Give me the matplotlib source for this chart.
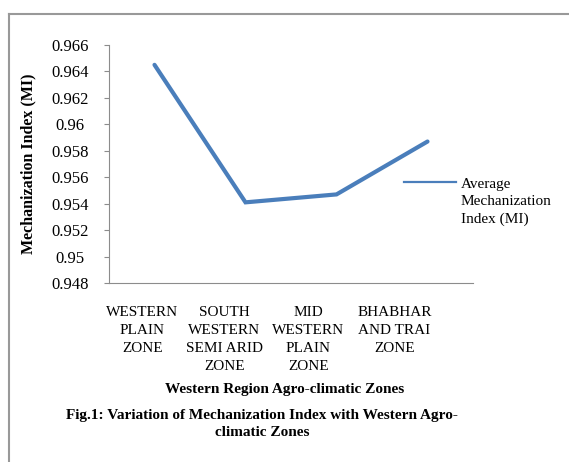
import matplotlib
matplotlib.use("Agg")
import matplotlib.pyplot as plt
from matplotlib.lines import Line2D
from matplotlib.ticker import FuncFormatter
from matplotlib.transforms import ScaledTranslation

categories = ["WESTERN\nPLAIN\nZONE", "SOUTH\nWESTERN\nSEMI ARID\nZONE",
              "MID\nWESTERN\nPLAIN\nZONE", "BHABHAR\nAND TRAI\nZONE"]
mi_values = [0.9645, 0.9541, 0.9547, 0.9587]
y_ticks = [0.948, 0.950, 0.952, 0.954, 0.956, 0.958, 0.960, 0.962, 0.964, 0.966]
series_name = "Average\nMechanization\nIndex (MI)"
x_title = "Western Region Agro-climatic Zones"
y_title = "Mechanization Index (MI)"
caption = "Fig.1: Variation of Mechanization Index with Western Agro-\nclimatic Zones"

plt.rcParams['font.family'] = ['Liberation Serif', 'DejaVu Serif']

W, H = 569, 462
DPI = 100
fig = plt.figure(figsize=(W / DPI, H / DPI), dpi=DPI)
fig.patch.set_facecolor('white')

def fx(px):
    return px / W

def fy(py):
    return 1 - py / H

ax = fig.add_axes([fx(109), fy(283), fx(473) - fx(109), fy(45) - fy(283)])
x = list(range(len(categories)))
line_color = '#4a7ebb'
ax.plot(x, mi_values, color=line_color, lw=3.0, solid_capstyle='round',
        solid_joinstyle='miter', label=series_name)
ax.set_xlim(-0.5, len(categories) - 0.5)
ax.set_ylim(y_ticks[0], y_ticks[-1])
ax.set_yticks(y_ticks)
ax.yaxis.set_major_formatter(FuncFormatter(lambda v, p: f"{v:g}"))

for s in ['top', 'right']:
    ax.spines[s].set_visible(False)
for s in ['left', 'bottom']:
    ax.spines[s].set_color('#8c8c8c')
    ax.spines[s].set_linewidth(0.8)

ax.tick_params(axis='y', direction='out', length=3.6, width=0.8, color='#8c8c8c',
               labelsize=12, pad=24.5)
for lab in ax.get_yticklabels():
    lab.set_horizontalalignment('center')
ax.set_xticks(x)
ax.set_xticklabels([])
ax.tick_params(axis='x', length=0)

label_shift_px = [-12, -21, -28, -33]
for i, (c, sh) in enumerate(zip(categories, label_shift_px)):
    tr = ax.get_xaxis_transform() + ScaledTranslation(sh / DPI, -23 / DPI, fig.dpi_scale_trans)
    ax.text(i, 0, c, transform=tr, ha='center', va='top', fontsize=11,
            linespacing=1.5, multialignment='center')

ax.set_xlabel(x_title, fontsize=11, fontweight='bold')
ax.xaxis.set_label_coords((285 - 109) / 364, (283 - 389) / 238)
ax.xaxis.label.set_va('center')
ax.set_ylabel(y_title, fontsize=11.5, fontweight='bold')
ax.yaxis.set_label_coords((28 - 109) / 364, 0.5)
ax.yaxis.label.set_va('center')

# legend (drawn manually to match the reference placement)
fig.add_artist(Line2D([fx(404), fx(456)], [fy(182), fy(182)], transform=fig.transFigure,
                      color=line_color, lw=1.6))
fig.text(fx(461), fy(178), series_name, ha='left', va='top', fontsize=11,
         linespacing=1.42)

fig.text(fx(262), fy(424), caption, ha='center', va='center', fontsize=11,
         fontweight='bold', linespacing=1.4, multialignment='center')

frame_color = '#999999'
fig.add_artist(Line2D([fx(8.5), fx(8.5)], [fy(14), 0], transform=fig.transFigure,
                      color=frame_color, lw=1.5))
fig.add_artist(Line2D([fx(8.5), 1], [fy(14), fy(14)], transform=fig.transFigure,
                      color=frame_color, lw=1.5))

fig.savefig('out.png', dpi=DPI)
